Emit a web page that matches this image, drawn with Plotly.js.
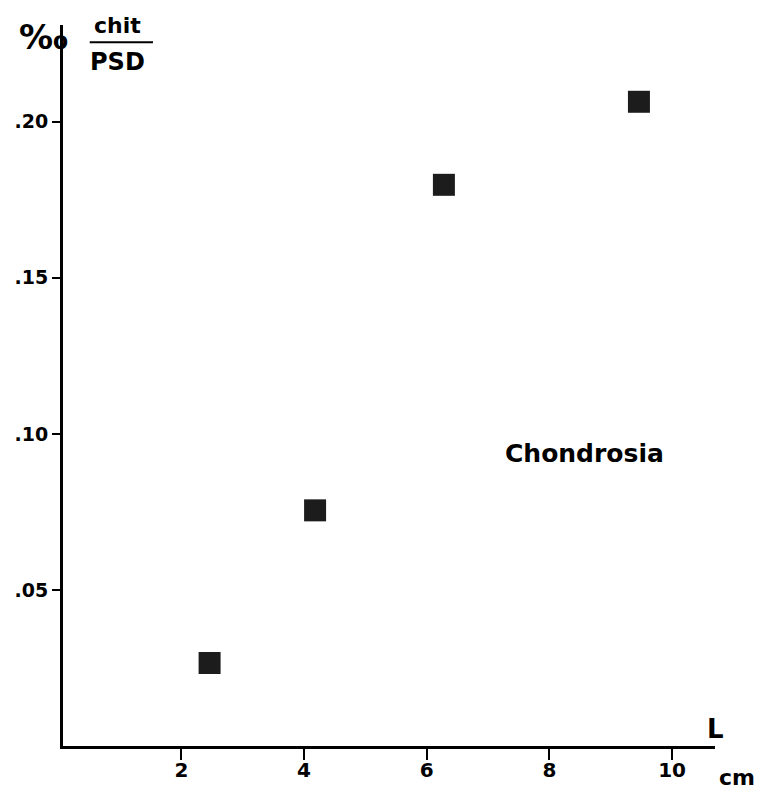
<!DOCTYPE html>
<html>
<head>
<meta charset="utf-8">
<script src="https://cdn.plot.ly/plotly-3.0.1.min.js"></script>
<style>html,body{margin:0;padding:0;background:#fff;}#chart{width:757px;height:789px;}</style>
</head>
<body>
<div id="chart"></div>
<script>
// Data
const lengthCm = [2.46, 4.18, 6.28, 9.46];
const chitPerPSD = [0.0266, 0.0755, 0.1798, 0.2064];
const xTickVals = [2, 4, 6, 8, 10];
const xTickText = ['2', '4', '6', '8', '10'];
const yTickVals = [0.05, 0.10, 0.15, 0.20];
const yTickText = ['.05', '.10', '.15', '.20'];

const FONT = 'DejaVu Sans, Liberation Sans, Arial, sans-serif';

const trace = {
  x: lengthCm,
  y: chitPerPSD,
  type: 'scatter',
  mode: 'markers',
  marker: {symbol: 'square', size: 22, color: '#1c1c1c', line: {width: 0}},
  hoverinfo: 'x+y'
};

const layout = {
  width: 757,
  height: 789,
  margin: {l: 63, r: 42, t: 25, b: 43},
  paper_bgcolor: '#ffffff',
  plot_bgcolor: '#ffffff',
  showlegend: false,
  font: {family: FONT, color: '#000'},
  xaxis: {
    range: [0.07, 10.70],
    showgrid: false,
    zeroline: false,
    showline: true,
    linewidth: 3,
    linecolor: '#000',
    ticks: 'outside',
    ticklen: 11,
    tickwidth: 2,
    tickcolor: '#000',
    tickvals: xTickVals,
    ticktext: xTickText,
    ticklabelstandoff: -7,
    tickfont: {family: FONT, size: 20, weight: 'bold', color: '#000'}
  },
  yaxis: {
    range: [0, 0.231],
    showgrid: false,
    zeroline: false,
    showline: true,
    linewidth: 3,
    linecolor: '#000',
    ticks: 'outside',
    ticklen: 8,
    tickwidth: 2,
    tickcolor: '#000',
    tickvals: yTickVals,
    ticktext: yTickText,
    ticklabelstandoff: 0,
    tickfont: {family: FONT, size: 19, weight: 'bold', color: '#000'}
  },
  shapes: [
    {type: 'line', xref: 'paper', yref: 'paper', x0: 0.041, x1: 0.138, y0: 0.976, y1: 0.976,
     line: {color: '#000', width: 2}}
  ],
  annotations: [
    {text: '‰', xref: 'paper', yref: 'paper', x: -0.030, y: 0.983, showarrow: false,
     xanchor: 'center', yanchor: 'middle', font: {family: FONT, size: 34, weight: 'bold', color: '#000'}},
    {text: 'chit', xref: 'paper', yref: 'paper', x: 0.084, y: 0.999, showarrow: false,
     xanchor: 'center', yanchor: 'middle', font: {family: FONT, size: 22, weight: 'bold', color: '#000'}},
    {text: 'PSD', xref: 'paper', yref: 'paper', x: 0.084, y: 0.948, showarrow: false,
     xanchor: 'center', yanchor: 'middle', font: {family: FONT, size: 24, weight: 'bold', color: '#000'}},
    {text: 'Chondrosia', xref: 'paper', yref: 'paper', x: 0.80, y: 0.406, showarrow: false,
     xanchor: 'center', yanchor: 'middle', font: {family: FONT, size: 25, weight: 'bold', color: '#000'}},
    {text: 'L', xref: 'paper', yref: 'paper', x: 1.0, y: 0.024, showarrow: false,
     xanchor: 'center', yanchor: 'middle', font: {family: FONT, size: 26, weight: 'bold', color: '#000'}},
    {text: 'cm', xref: 'paper', yref: 'paper', x: 1.034, y: -0.043, showarrow: false,
     xanchor: 'center', yanchor: 'middle', font: {family: FONT, size: 22, weight: 'bold', color: '#000'}}
  ]
};

Plotly.newPlot('chart', [trace], layout, {displayModeBar: false, staticPlot: true});
</script>
</body>
</html>
